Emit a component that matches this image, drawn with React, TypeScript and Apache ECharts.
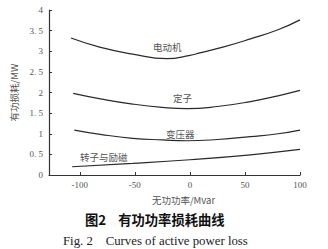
import React, { useEffect, useRef } from "react";
import * as echarts from "echarts";

const xTicks = [-100, -50, 0, 50, 100];
const yTicks = [0, 0.5, 1, 1.5, 2, 2.5, 3, 3.5, 4];
const seriesNames = ["电动机", "定子", "变压器", "转子与励磁"];
const motorX = [-108, -82, -52, -21, 0, 9, 30, 55, 80, 100];
const motorY = [3.32, 3.1, 2.93, 2.82, 2.9, 2.96, 3.1, 3.3, 3.52, 3.76];
const statorX = [-106, -80, -52, -25, -3, 25, 55, 80, 100];
const statorY = [1.98, 1.84, 1.72, 1.64, 1.61, 1.66, 1.78, 1.92, 2.05];
const trafoX = [-105, -80, -52, -25, -3, 25, 55, 80, 100];
const trafoY = [1.09, 0.98, 0.89, 0.85, 0.83, 0.86, 0.93, 1.0, 1.09];
const rotorX = [-107, -52, 0, 55, 100];
const rotorY = [0.2, 0.28, 0.37, 0.49, 0.62];

const zip = (xs: number[], ys: number[]) => xs.map((x, i) => [x, ys[i]]);

const serif = "'Liberation Serif', 'DejaVu Serif', serif";
const cjk = "'Noto Sans CJK SC', sans-serif";

export default function App() {
  const ref = useRef<HTMLDivElement>(null);
  useEffect(() => {
    if (!ref.current) return;
    const chart = echarts.init(ref.current, undefined, { renderer: "svg" });
    const lineStyle = { color: "#2a2a2a", width: 1.2 };
    const mk = (name: string, xs: number[], ys: number[]) => ({
      name,
      type: "line",
      smooth: true,
      showSymbol: false,
      data: zip(xs, ys),
      lineStyle,
    });
    chart.setOption({
      animation: false,
      backgroundColor: "#ffffff",
      grid: { left: 49, right: 28, top: 10, bottom: 74 },
      xAxis: {
        type: "value",
        min: -128,
        max: 100,
        splitLine: { show: false },
        axisLine: { onZero: false, lineStyle: { color: "#333", width: 1.2 } },
        axisTick: { inside: true, length: 3, customValues: xTicks, lineStyle: { color: "#333" } },
        axisLabel: {
          customValues: xTicks,
          color: "#555",
          fontSize: 9,
          fontFamily: serif,
          margin: 5,
          formatter: (v: number) => String(v),
        },
        name: "无功功率/Mvar",
        nameLocation: "middle",
        nameGap: 20,
        nameTextStyle: { color: "#555", fontSize: 9.5, fontFamily: cjk, padding: [0, 0, 0, 18] },
      },
      yAxis: {
        type: "value",
        min: 0,
        max: 4,
        interval: 0.5,
        splitLine: { show: false },
        axisLine: { show: true, onZero: false, lineStyle: { color: "#333", width: 1.2 } },
        axisTick: { show: true, inside: true, length: 3, lineStyle: { color: "#333" } },
        axisLabel: {
          color: "#555",
          fontSize: 9,
          fontFamily: serif,
          margin: 6,
          formatter: (v: number) => (yTicks.includes(v) ? (Number.isInteger(v) ? String(v) : v.toFixed(1).replace(".", ". ")) : ""),
        },
        name: "有功损耗/MW",
        nameLocation: "middle",
        nameGap: 30,
        nameRotate: 90,
        nameTextStyle: { color: "#555", fontSize: 9.5, fontFamily: cjk },
      },
      series: [
        mk(seriesNames[0], motorX, motorY),
        mk(seriesNames[1], statorX, statorY),
        mk(seriesNames[2], trafoX, trafoY),
        mk(seriesNames[3], rotorX, rotorY),
      ],
      graphic: [
        { type: "text", left: 153, top: 42, style: { text: seriesNames[0], fontSize: 9.5, fill: "#555", fontFamily: cjk } },
        { type: "text", left: 173, top: 93, style: { text: seriesNames[1], fontSize: 9.5, fill: "#555", fontFamily: cjk } },
        { type: "text", left: 166, top: 129, style: { text: seriesNames[2], fontSize: 9.5, fill: "#555", fontFamily: cjk } },
        { type: "text", left: 80, top: 152, style: { text: seriesNames[3], fontSize: 9.5, fill: "#555", fontFamily: cjk } },
        {
          type: "text",
          left: 85,
          top: 213,
          style: { text: "图2    有功功率损耗曲线", fontSize: 13.3, fontWeight: "bold", fill: "#111", fontFamily: cjk },
        },
        {
          type: "text",
          left: 63,
          top: 234,
          style: { text: "Fig. 2    Curves of active power loss", fontSize: 12.8, fill: "#222", fontFamily: serif },
        },
      ],
    });
    return () => chart.dispose();
  }, []);
  return <div ref={ref} style={{ position: "fixed", left: 0, top: 0, width: 328, height: 249 }} />;
}
